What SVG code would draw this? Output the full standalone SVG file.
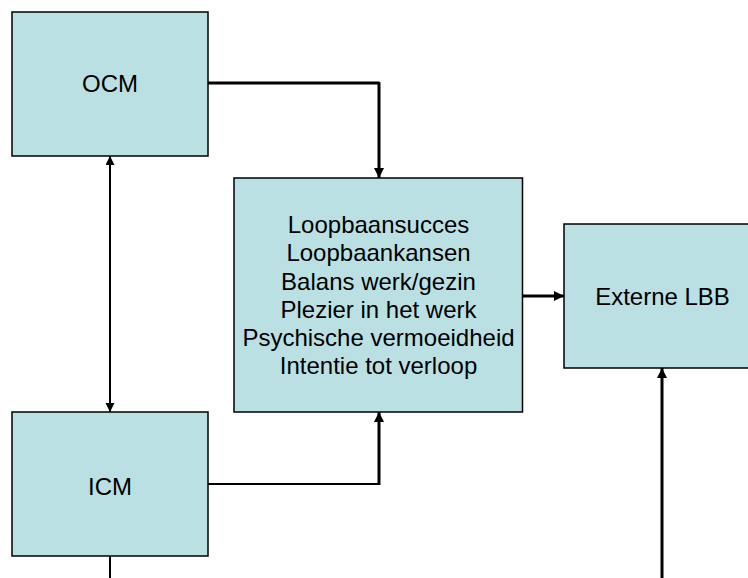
<svg xmlns="http://www.w3.org/2000/svg" width="748" height="578" viewBox="0 0 748 578">
<style>
.box{fill:#BBE0E3;stroke:#000;stroke-width:1.5}
.lbl{font-family:"Liberation Sans",Arial,sans-serif;font-size:24px;fill:#000;text-anchor:middle}
.thick{fill:none;stroke:#000;stroke-width:3}
.thin{fill:none;stroke:#000;stroke-width:2}
</style>
<defs>
<marker id="ah" markerUnits="userSpaceOnUse" markerWidth="11" markerHeight="11" refX="10" refY="5" orient="auto-start-reverse">
<path d="M0,0 L10,5 L0,10 z" fill="#000"/>
</marker>
<marker id="ahs" markerUnits="userSpaceOnUse" markerWidth="10" markerHeight="10" refX="9" refY="4.5" orient="auto-start-reverse">
<path d="M0,0 L9,4.5 L0,9 z" fill="#000"/>
</marker>
</defs>
<g id="connectors">
<path class="thick" d="M208,83 L379,83 L379,178" stroke-linejoin="round" marker-end="url(#ah)"/>
<path class="thin" d="M110,156 L110,412" marker-start="url(#ahs)" marker-end="url(#ahs)"/>
<path class="thin" d="M208,484 L380,484"/>
<path class="thick" d="M379,485 L379,412" marker-end="url(#ah)"/>
<path class="thick" d="M522.5,296 L564,296" marker-end="url(#ah)"/>
<path class="thick" d="M662,578 L662,368" marker-end="url(#ah)"/>
<path class="thin" d="M110,556 L110,578"/>
</g>
<g id="ocm">
<rect class="box" x="12" y="12" width="196" height="144"/>
<text class="lbl" x="110" y="92">OCM</text>
</g>
<g id="icm">
<rect class="box" x="12" y="412" width="196" height="144"/>
<text class="lbl" x="110" y="495">ICM</text>
</g>
<g id="uitkomsten">
<rect class="box" x="234" y="178" width="288.5" height="234"/>
<text class="lbl" x="378.5" y="233">Loopbaansucces</text>
<text class="lbl" x="378.5" y="261">Loopbaankansen</text>
<text class="lbl" x="378.5" y="289.5">Balans werk/gezin</text>
<text class="lbl" x="378.5" y="317.5">Plezier in het werk</text>
<text class="lbl" x="378.5" y="346">Psychische vermoeidheid</text>
<text class="lbl" x="378.5" y="374">Intentie tot verloop</text>
</g>
<g id="externe">
<rect class="box" x="564" y="224" width="197" height="144"/>
<text class="lbl" x="662.5" y="305">Externe LBB</text>
</g>
</svg>
